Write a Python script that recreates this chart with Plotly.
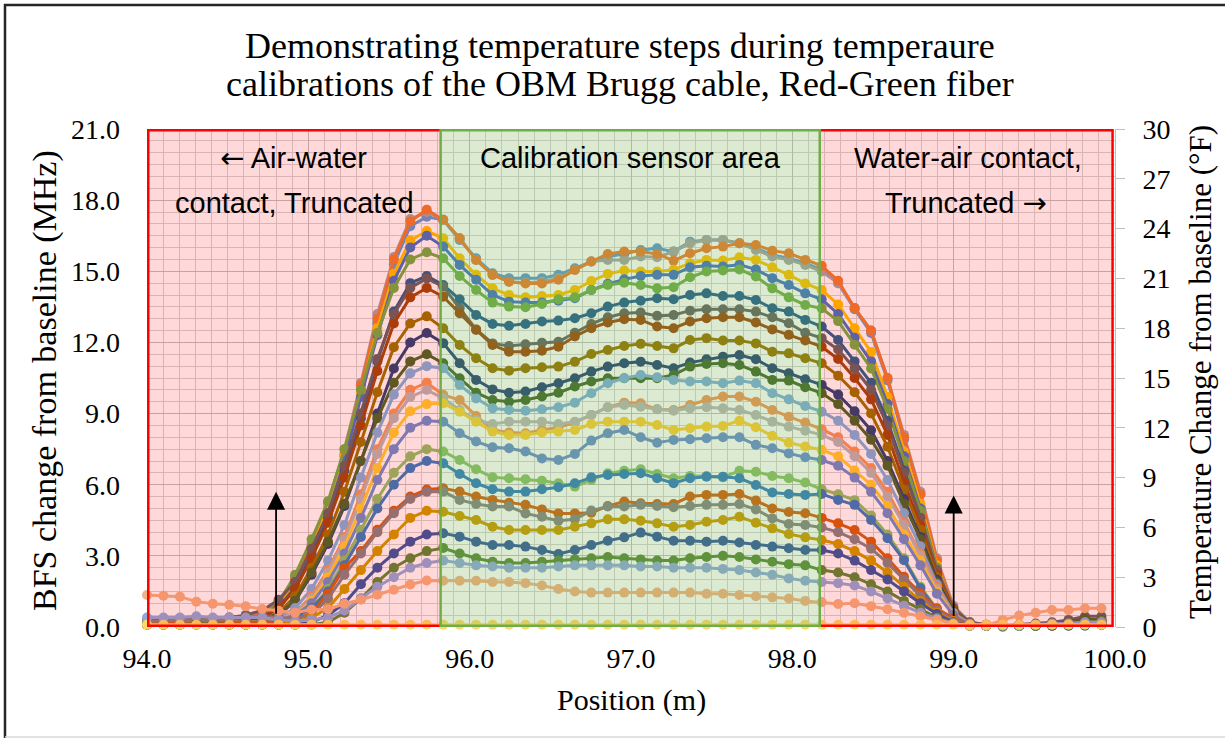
import plotly.graph_objects as go

# Sample positions along the fiber (m)
position_m = [
    94.000, 94.102, 94.204, 94.306, 94.408, 94.510, 94.612,
    94.714, 94.816, 94.918, 95.020, 95.122, 95.224, 95.326, 95.428, 95.530, 95.632, 95.734,
    95.836, 95.938, 96.040, 96.142, 96.244, 96.346, 96.448, 96.550, 96.652, 96.754, 96.856, 96.958,
    97.060, 97.162, 97.264, 97.366, 97.468, 97.570, 97.672, 97.774, 97.876, 97.978, 98.080, 98.182,
    98.284, 98.386, 98.488, 98.590, 98.692, 98.794, 98.896, 98.998, 99.100,
    99.202, 99.304, 99.406, 99.508, 99.610, 99.712, 99.814, 99.916,
]

# BFS change from baseline (MHz), one list per temperature step
bfs_01 = [0.2, 0.2, 0.2, 0.25, 0.3, 0.25, 0.3,
          0.5, 0.9, 1.8, 3.2, 4.9, 7.2, 10.0, 12.8, 15.3, 16.9, 17.3,
          17.17, 16.32, 15.55, 14.92, 14.71, 14.71, 14.71, 14.85, 15.13, 15.41, 15.62, 15.73,
          15.90, 15.97, 15.83, 16.25, 16.32, 16.32, 16.18, 15.97, 15.69, 15.55, 15.34, 15.06,
          14.5, 13.4, 12.4, 10.4, 7.9, 5.6, 2.8, 0.8, 0.2,
          0.1, 0.05, 0.05, 0.1, 0.15, 0.2, 0.25, 0.25]
bfs_02 = [0.3, 0.3, 0.3, 0.3, 0.35, 0.4, 0.45,
          0.7, 1.1, 2.1, 3.5, 5.2, 7.5, 10.3, 13.2, 15.6, 17.2, 17.5,
          17.17, 16.39, 15.48, 14.85, 14.56, 14.52, 14.56, 14.71, 15.06, 15.41, 15.48, 15.48,
          15.62, 15.59, 15.83, 16.18, 16.32, 16.32, 16.18, 15.90, 15.62, 15.48, 15.27, 14.99,
          14.5, 13.45, 12.5, 10.5, 8.1, 5.7, 2.9, 0.9, 0.2,
          0.05, 0.05, 0.05, 0.1, 0.15, 0.2, 0.3, 0.3]
bfs_03 = [0.2, 0.2, 0.15, 0.2, 0.2, 0.25, 0.3,
          0.6, 1.0, 2.0, 3.4, 5.0, 7.3, 10.2, 13.0, 15.5, 17.1, 17.6,
          17.17, 16.39, 15.48, 14.85, 14.56, 14.49, 14.49, 14.64, 15.06, 15.41, 15.73, 15.83,
          15.83, 15.73, 15.45, 15.76, 15.97, 16.04, 16.18, 16.11, 15.87, 15.76, 15.48, 15.23,
          14.6, 13.45, 12.5, 10.5, 8.0, 5.6, 2.8, 0.8, 0.15,
          0.05, 0.0, 0.05, 0.05, 0.1, 0.15, 0.2, 0.2]
bfs_04 = [0.15, 0.15, 0.2, 0.2, 0.2, 0.2, 0.25,
          0.5, 0.9, 1.8, 3.3, 5.0, 7.2, 9.9, 12.6, 14.9, 16.3, 16.7,
          16.39, 15.55, 14.85, 14.28, 14.0, 13.9, 13.96, 14.0, 14.21, 14.59, 14.89, 15.03,
          14.99, 14.99, 15.06, 15.34, 15.48, 15.45, 15.59, 15.48, 15.17, 14.85, 14.49, 14.21,
          13.6, 12.6, 11.6, 9.7, 7.4, 5.2, 2.6, 0.7, 0.15,
          0.05, 0.05, 0.05, 0.05, 0.1, 0.1, 0.15, 0.15]
bfs_05 = [0.15, 0.2, 0.2, 0.15, 0.2, 0.2, 0.2,
          0.4, 0.8, 1.7, 3.1, 4.8, 7.0, 9.7, 12.3, 14.6, 16.0, 16.5,
          16.04, 15.27, 14.64, 14.0, 13.72, 13.68, 13.68, 13.76, 13.86, 14.21, 14.47, 14.66,
          14.8, 14.85, 14.85, 15.17, 15.23, 15.2, 15.27, 15.08, 14.71, 14.42, 14.07, 13.82,
          13.2, 12.2, 11.2, 9.4, 7.2, 5.0, 2.5, 0.7, 0.15,
          0.05, 0.05, 0.1, 0.1, 0.15, 0.2, 0.2, 0.25]
bfs_06 = [0.2, 0.2, 0.25, 0.2, 0.2, 0.25, 0.3,
          0.5, 1.0, 2.2, 3.7, 5.3, 7.5, 10.0, 12.4, 14.3, 15.5, 15.8,
          15.55, 14.8, 14.21, 13.68, 13.51, 13.48, 13.62, 13.82, 13.9, 14.21, 14.42, 14.52,
          14.42, 14.28, 14.33, 14.75, 14.99, 15.03, 15.08, 14.78, 14.28, 13.9, 13.58, 13.44,
          12.9, 11.9, 10.9, 9.2, 7.0, 4.9, 2.5, 0.7, 0.15,
          0.05, 0.05, 0.05, 0.1, 0.15, 0.2, 0.3, 0.3]
bfs_07 = [0.2, 0.2, 0.2, 0.2, 0.25, 0.2, 0.25,
          0.4, 0.8, 1.6, 3.0, 4.6, 6.6, 8.8, 11.2, 13.3, 14.5, 14.8,
          14.42, 13.82, 13.16, 12.78, 12.7, 12.78, 12.88, 12.92, 13.02, 13.23, 13.51, 13.68,
          13.76, 13.86, 13.82, 14.0, 14.07, 13.96, 13.96, 13.79, 13.44, 13.3, 12.95, 12.67,
          12.1, 11.2, 10.3, 8.7, 6.6, 4.6, 2.3, 0.7, 0.15,
          0.05, 0.05, 0.05, 0.1, 0.1, 0.15, 0.2, 0.2]
bfs_08 = [0.3, 0.3, 0.35, 0.3, 0.35, 0.4, 0.5,
          0.7, 1.15, 1.9, 3.3, 4.8, 6.8, 9.0, 11.3, 13.2, 14.3, 14.7,
          14.35, 13.44, 12.55, 11.96, 11.85, 11.92, 11.99, 12.03, 12.41, 12.78, 13.06, 13.23,
          13.26, 13.12, 13.16, 13.34, 13.4, 13.4, 13.4, 13.3, 13.06, 12.81, 12.41, 12.18,
          11.7, 10.9, 10.0, 8.5, 6.5, 4.6, 2.4, 0.8, 0.2,
          0.1, 0.05, 0.1, 0.15, 0.2, 0.3, 0.45, 0.45]
bfs_09 = [0.2, 0.2, 0.2, 0.2, 0.2, 0.25, 0.3,
          0.4, 0.8, 1.6, 2.9, 4.4, 6.3, 8.5, 10.8, 12.8, 13.9, 14.3,
          13.93, 13.23, 12.53, 11.89, 11.61, 11.61, 11.65, 11.82, 12.25, 12.6, 12.84, 12.98,
          12.95, 12.67, 12.6, 12.88, 13.02, 13.06, 13.06, 12.84, 12.55, 12.32, 12.08, 11.82,
          11.3, 10.5, 9.6, 8.1, 6.1, 4.3, 2.2, 0.7, 0.15,
          0.05, 0.05, 0.05, 0.1, 0.1, 0.15, 0.2, 0.2]
bfs_10 = [0.15, 0.15, 0.2, 0.15, 0.2, 0.2, 0.2,
          0.3, 0.6, 1.3, 2.5, 3.9, 5.7, 7.8, 9.9, 11.8, 12.8, 13.1,
          12.6, 11.89, 11.33, 10.91, 10.81, 10.91, 10.95, 10.98, 11.19, 11.51, 11.68, 11.85,
          11.94, 11.85, 11.75, 12.1, 12.18, 12.08, 12.08, 11.96, 11.61, 11.54, 11.33, 11.12,
          10.6, 9.9, 9.0, 7.6, 5.8, 4.1, 2.1, 0.7, 0.15,
          0.05, 0.05, 0.05, 0.05, 0.1, 0.1, 0.15, 0.15]
bfs_11 = [0.2, 0.2, 0.2, 0.2, 0.2, 0.2, 0.25,
          0.3, 0.5, 1.1, 2.2, 3.5, 5.1, 7.0, 9.0, 10.9, 12.0, 12.4,
          11.97, 11.12, 10.42, 10.02, 9.88, 9.93, 10.11, 10.28, 10.49, 10.77, 10.98, 11.12,
          11.19, 11.05, 10.91, 11.15, 11.29, 11.40, 11.47, 11.29, 10.91, 10.70, 10.45, 10.21,
          9.8, 9.1, 8.3, 7.0, 5.4, 3.8, 2.0, 0.65, 0.15,
          0.05, 0.05, 0.05, 0.1, 0.1, 0.15, 0.2, 0.2]
bfs_12 = [0.25, 0.25, 0.3, 0.25, 0.3, 0.3, 0.3,
          0.35, 0.55, 1.1, 2.3, 3.6, 5.2, 7.0, 8.8, 10.3, 11.2, 11.5,
          11.12, 10.49, 9.88, 9.57, 9.50, 9.57, 9.72, 9.88, 10.14, 10.35, 10.49, 10.49,
          10.49, 10.49, 10.63, 10.98, 11.09, 11.12, 11.05, 10.77, 10.42, 10.39, 10.11, 9.86,
          9.4, 8.7, 7.9, 6.8, 5.2, 3.7, 1.9, 0.65, 0.15,
          0.05, 0.05, 0.05, 0.1, 0.15, 0.2, 0.35, 0.3]
bfs_13 = [0.2, 0.2, 0.2, 0.2, 0.2, 0.2, 0.2,
          0.2, 0.4, 0.8, 1.6, 2.8, 4.3, 6.3, 8.2, 9.8, 10.7, 11.0,
          10.91, 10.21, 9.64, 9.22, 9.15, 9.12, 9.18, 9.27, 9.46, 9.86, 10.28, 10.49,
          10.63, 10.53, 10.42, 10.35, 10.35, 10.28, 10.39, 10.28, 9.86, 9.60, 9.32, 9.08,
          8.7, 8.1, 7.3, 6.2, 4.8, 3.4, 1.8, 0.6, 0.15,
          0.05, 0.05, 0.05, 0.05, 0.1, 0.1, 0.15, 0.15]
bfs_14 = [0.15, 0.15, 0.15, 0.15, 0.2, 0.2, 0.2,
          0.2, 0.3, 0.6, 1.3, 2.4, 3.8, 5.6, 7.5, 9.0, 10.0, 10.3,
          9.79, 9.57, 8.90, 8.31, 8.20, 8.17, 8.31, 8.42, 8.62, 8.94, 9.27, 9.46,
          9.43, 9.18, 9.15, 9.36, 9.57, 9.72, 9.72, 9.50, 9.15, 8.87, 8.62, 8.34,
          8.0, 7.4, 6.7, 5.7, 4.4, 3.1, 1.7, 0.55, 0.1,
          0.05, 0.05, 0.05, 0.05, 0.1, 0.1, 0.1, 0.15]
bfs_15 = [0.2, 0.2, 0.2, 0.25, 0.25, 0.2, 0.2,
          0.2, 0.3, 0.6, 1.2, 2.3, 3.7, 5.4, 7.3, 8.8, 9.7, 10.0,
          9.64, 9.15, 8.73, 8.56, 8.66, 8.66, 8.66, 8.56, 8.66, 8.94, 9.27, 9.36,
          9.29, 9.18, 9.12, 9.22, 9.27, 9.22, 9.15, 8.94, 8.66, 8.45, 8.28, 8.10,
          7.8, 7.2, 6.5, 5.5, 4.3, 3.0, 1.6, 0.55, 0.1,
          0.05, 0.05, 0.05, 0.1, 0.1, 0.15, 0.15, 0.2]
bfs_16 = [0.1, 0.1, 0.15, 0.15, 0.1, 0.15, 0.15,
          0.2, 0.3, 0.5, 1.1, 2.1, 3.4, 5.0, 6.7, 8.2, 9.1, 9.4,
          9.43, 9.08, 8.66, 8.24, 8.10, 8.10, 8.20, 8.24, 8.31, 8.56, 8.66, 8.66,
          8.66, 8.52, 8.31, 8.38, 8.45, 8.48, 8.70, 8.42, 8.06, 7.77, 7.61, 7.47,
          7.2, 6.6, 6.0, 5.1, 3.9, 2.8, 1.5, 0.5, 0.1,
          0.05, 0.05, 0.05, 0.05, 0.05, 0.1, 0.1, 0.1]
bfs_17 = [0.15, 0.15, 0.15, 0.2, 0.2, 0.15, 0.2,
          0.2, 0.3, 0.5, 1.0, 1.9, 3.1, 4.6, 6.2, 7.5, 8.4, 8.7,
          8.66, 8.17, 7.82, 7.58, 7.54, 7.40, 7.11, 7.04, 7.30, 7.86, 8.17, 8.31,
          8.0, 7.77, 7.89, 7.92, 7.96, 8.0, 8.0, 7.68, 7.54, 7.32, 7.16, 7.04,
          6.8, 6.3, 5.7, 4.8, 3.7, 2.6, 1.4, 0.5, 0.1,
          0.05, 0.05, 0.05, 0.05, 0.1, 0.1, 0.15, 0.15]
bfs_18 = [0.2, 0.2, 0.2, 0.2, 0.2, 0.2, 0.2,
          0.2, 0.2, 0.4, 0.8, 1.6, 2.8, 4.1, 5.4, 6.5, 7.2, 7.5,
          7.40, 7.04, 6.65, 6.31, 6.27, 6.23, 6.17, 6.06, 5.92, 6.20, 6.48, 6.59,
          6.65, 6.45, 6.27, 6.37, 6.37, 6.31, 6.59, 6.55, 6.37, 6.27, 6.09, 5.81,
          5.6, 5.35, 4.7, 3.9, 2.9, 1.7, 0.75, 0.3, 0.1,
          0.05, 0.05, 0.05, 0.05, 0.1, 0.1, 0.1, 0.1]
bfs_19 = [0.15, 0.15, 0.15, 0.15, 0.15, 0.15, 0.15,
          0.2, 0.2, 0.4, 0.8, 1.5, 2.6, 3.8, 5.0, 6.0, 6.7, 7.0,
          6.90, 6.45, 6.06, 5.81, 5.71, 5.71, 5.81, 5.89, 6.06, 6.31, 6.41, 6.45,
          6.48, 6.27, 6.06, 6.27, 6.34, 6.34, 6.27, 5.99, 5.67, 5.61, 5.57, 5.61,
          5.36, 5.15, 4.51, 3.74, 2.82, 1.63, 0.72, 0.3, 0.1,
          0.05, 0.05, 0.05, 0.05, 0.05, 0.1, 0.1, 0.1]
bfs_20 = [0.15, 0.15, 0.15, 0.2, 0.2, 0.2, 0.2,
          0.2, 0.2, 0.3, 0.6, 1.4, 2.5, 3.2, 4.1, 4.9, 5.5, 5.8,
          5.85, 5.71, 5.50, 5.36, 5.24, 5.15, 4.96, 4.79, 4.79, 4.82, 5.10, 5.29,
          5.22, 5.19, 5.19, 5.50, 5.57, 5.57, 5.61, 5.33, 5.0, 4.85, 4.8, 4.6,
          4.37, 4.09, 3.6, 2.9, 2.12, 1.42, 0.79, 0.36, 0.1,
          0.05, 0.05, 0.05, 0.05, 0.05, 0.1, 0.1, 0.1]
bfs_21 = [0.25, 0.25, 0.3, 0.3, 0.3, 0.35, 0.4,
          0.45, 0.4, 0.35, 0.5, 1.2, 2.2, 3.1, 4.0, 4.8, 5.4, 5.7,
          5.71, 5.36, 5.19, 5.08, 5.08, 4.79, 4.65, 4.48, 4.54, 4.91, 5.08, 5.08,
          5.15, 5.10, 5.05, 5.10, 5.15, 5.15, 5.19, 4.96, 4.58, 4.34, 4.3, 4.2,
          4.0, 3.7, 3.3, 2.7, 2.0, 1.3, 0.7, 0.3, 0.1,
          0.05, 0.05, 0.05, 0.1, 0.1, 0.15, 0.2, 0.2]
bfs_22 = [0.1, 0.1, 0.1, 0.1, 0.1, 0.1, 0.1,
          0.1, 0.1, 0.2, 0.4, 0.8, 1.6, 2.4, 3.2, 3.9, 4.6, 4.9,
          4.86, 4.68, 4.51, 4.23, 4.09, 4.09, 4.09, 4.09, 4.23, 4.37, 4.54, 4.54,
          4.48, 4.37, 4.23, 4.30, 4.44, 4.51, 4.65, 4.40, 4.16, 3.92, 3.78, 3.67,
          3.5, 3.2, 2.8, 2.3, 1.7, 1.1, 0.6, 0.25, 0.05,
          0.05, 0.05, 0.05, 0.05, 0.05, 0.05, 0.1, 0.1]
bfs_23 = [0.1, 0.1, 0.1, 0.1, 0.1, 0.1, 0.1,
          0.1, 0.1, 0.1, 0.2, 0.5, 1.0, 1.8, 2.5, 3.1, 3.6, 3.9,
          3.95, 3.81, 3.60, 3.46, 3.46, 3.39, 3.25, 3.08, 3.25, 3.46, 3.64, 3.78,
          3.98, 3.81, 3.64, 3.64, 3.60, 3.64, 3.56, 3.46, 3.39, 3.32, 3.25, 3.25,
          3.1, 2.8, 2.4, 2.0, 1.5, 1.0, 0.55, 0.2, 0.05,
          0.05, 0.05, 0.05, 0.05, 0.05, 0.05, 0.05, 0.1]
bfs_24 = [0.1, 0.1, 0.1, 0.15, 0.15, 0.1, 0.1,
          0.1, 0.1, 0.1, 0.1, 0.2, 0.6, 1.2, 1.9, 2.5, 2.9, 3.2,
          3.33, 3.1, 2.9, 2.75, 2.7, 2.7, 2.75, 2.8, 2.85, 2.9, 2.95, 2.9,
          2.85, 2.8, 2.8, 2.9, 2.95, 3.0, 2.95, 2.85, 2.75, 2.65, 2.6, 2.4,
          2.3, 2.1, 1.8, 1.5, 1.1, 0.75, 0.4, 0.15, 0.05,
          0.05, 0.05, 0.05, 0.05, 0.1, 0.15, 0.2, 0.25]
bfs_25 = [0.4, 0.4, 0.4, 0.45, 0.4, 0.4, 0.4,
          0.4, 0.3, 0.25, 0.3, 0.4, 0.7, 1.2, 1.7, 2.1, 2.5, 2.7,
          2.8, 2.7, 2.6, 2.55, 2.5, 2.5, 2.5, 2.55, 2.6, 2.6, 2.6, 2.6,
          2.55, 2.55, 2.5, 2.5, 2.5, 2.45, 2.4, 2.3, 2.2, 2.05, 1.95, 1.9,
          1.85, 1.75, 1.5, 1.2, 0.9, 0.6, 0.35, 0.15, 0.05,
          0.05, 0.05, 0.05, 0.1, 0.15, 0.15, 0.2, 0.2]
bfs_26 = [1.35, 1.32, 1.28, 1.07, 0.98, 0.94, 0.87,
          0.76, 0.68, 0.6, 0.74, 0.75, 0.98, 1.15, 1.36, 1.57, 1.79, 1.96,
          1.95, 1.95, 1.95, 1.9, 1.9, 1.85, 1.75, 1.6, 1.5, 1.45, 1.45, 1.45,
          1.45, 1.45, 1.45, 1.45, 1.4, 1.4, 1.35, 1.3, 1.25, 1.2, 1.1, 1.05,
          0.97, 1.0, 0.88, 0.75, 0.6, 0.45, 0.3, 0.15, 0.05,
          0.05, 0.3, 0.48, 0.6, 0.72, 0.72, 0.79, 0.79]
bfs_27 = [0.1, 0.1, 0.1, 0.1, 0.1, 0.1, 0.1,
          0.1, 0.1, 0.1, 0.1, 0.1, 0.1, 0.1, 0.1, 0.1, 0.1, 0.1,
          0.1, 0.1, 0.1, 0.1, 0.1, 0.1, 0.1, 0.1, 0.1, 0.1, 0.1, 0.1,
          0.1, 0.1, 0.1, 0.1, 0.1, 0.1, 0.1, 0.1, 0.1, 0.1, 0.1, 0.1,
          0.1, 0.1, 0.1, 0.1, 0.1, 0.1, 0.1, 0.1, 0.1,
          0.1, 0.1, 0.1, 0.1, 0.1, 0.1, 0.1, 0.1]

step_series = [bfs_01, bfs_02, bfs_03, bfs_04, bfs_05, bfs_06, bfs_07, bfs_08, bfs_09,
               bfs_10, bfs_11, bfs_12, bfs_13, bfs_14, bfs_15, bfs_16, bfs_17, bfs_18,
               bfs_19, bfs_20, bfs_21, bfs_22, bfs_23, bfs_24, bfs_25, bfs_26, bfs_27]

step_colors = ["#5B9BD5", "#A5A5A5", "#ED7D31", "#FFC000", "#4472C4", "#70AD47",
               "#255E91", "#636363", "#9E480E", "#997300", "#264478", "#43682B",
               "#7CAFDD", "#F1975A", "#B7B7B7", "#FFCD33", "#698ED0", "#8CC168",
               "#327DC2", "#D26012", "#848484", "#CC9A00", "#335AA1", "#5A8A39",
               "#8FAADC", "#F4B183", "#FFD966"]

# Axis scales
bfs_range = [0, 21]
temp_range_f = [0, 30]
position_range = [94, 100]

# Zone edges along the fiber (m)
zone_edges = [94.0, 95.82, 98.17, 99.985]

SERIF = "Liberation Serif"
SANS = "Liberation Sans"
W, H = 1225, 738
ML, MR, MT, MB = 147, 110, 129, 111
PW, PH = W - ML - MR, H - MT - MB


def pxx(px):
    """figure pixel column -> plot-area paper fraction"""
    return (px - ML) / PW


def pxy(py):
    """figure pixel row (from top) -> plot-area paper fraction"""
    return (H - MB - py) / PH


fig = go.Figure()
for values, color in zip(step_series, step_colors):
    fig.add_trace(go.Scatter(
        x=position_m, y=values, mode="lines+markers",
        line=dict(color=color, width=3),
        marker=dict(color=color, size=10),
        cliponaxis=False, showlegend=False, hoverinfo="skip"))

# carrier for the secondary (°F) axis
fig.add_trace(go.Scatter(x=[position_range[0]], y=[temp_range_f[0]], yaxis="y2",
                         mode="markers", marker=dict(opacity=0),
                         showlegend=False, hoverinfo="skip"))

red_fill = "rgba(255,0,0,0.15)"
green_fill = "rgba(112,173,71,0.25)"
red_line = "#FF0000"
green_line = "#70AD47"

shapes = []
# translucent zone overlays (above the traces)
for (x0, x1), fill in zip([(zone_edges[0], zone_edges[1]),
                           (zone_edges[1], zone_edges[2]),
                           (zone_edges[2], zone_edges[3])],
                          [red_fill, green_fill, red_fill]):
    shapes.append(dict(type="rect", xref="x", yref="y", x0=x0, x1=x1,
                       y0=bfs_range[0], y1=bfs_range[1], fillcolor=fill,
                       line=dict(width=0), layer="above"))


def seg(x0, y0, x1, y1, color, width):
    return dict(type="line", xref="x", yref="y", x0=x0, y0=y0, x1=x1, y1=y1,
                line=dict(color=color, width=width), layer="above")


lo, hi = bfs_range
# red zone borders
shapes += [
    seg(zone_edges[0], lo, zone_edges[0], hi, red_line, 5),
    seg(zone_edges[0], hi, zone_edges[1], hi, red_line, 5),
    seg(zone_edges[0], lo, zone_edges[1], lo, red_line, 5),
    seg(zone_edges[2], hi, zone_edges[3], hi, red_line, 5),
    seg(zone_edges[2], lo, zone_edges[3], lo, red_line, 5),
    seg(zone_edges[3], lo, zone_edges[3], hi, red_line, 2.5),
]
# green zone borders
shapes += [
    seg(zone_edges[1], lo, zone_edges[1], hi, green_line, 2.5),
    seg(zone_edges[2], lo, zone_edges[2], hi, green_line, 2.5),
    seg(zone_edges[1], hi, zone_edges[2], hi, green_line, 5),
    seg(zone_edges[1], lo, zone_edges[2], lo, green_line, 5),
]
# chart frame
shapes += [
    dict(type="line", xref="paper", yref="paper", x0=pxx(5), x1=pxx(5),
         y0=pxy(H + 5), y1=pxy(4), line=dict(color="#262626", width=2.5)),
    dict(type="line", xref="paper", yref="paper", x0=pxx(4), x1=pxx(W + 10),
         y0=pxy(5), y1=pxy(5), line=dict(color="#262626", width=2.5)),
    dict(type="line", xref="paper", yref="paper", x0=pxx(5), x1=pxx(W + 10),
         y0=pxy(H - 1), y1=pxy(H - 1), line=dict(color="#D9D9D9", width=1.5)),
]


def px_note(text, x, y, size, family, angle=0):
    return dict(text=text, xref="paper", yref="paper", x=pxx(x), y=pxy(y),
                xanchor="center", yanchor="middle", showarrow=False, textangle=angle,
                font=dict(family=family, size=size, color="black"))


ARW = "<span style='font-family:DejaVu Sans'>%s</span>"

annotations = [
    px_note("Demonstrating temperature steps during temperaure", 620, 46, 36, SERIF),
    px_note("calibrations of the OBM Brugg cable, Red-Green fiber", 620, 84, 36, SERIF),
    px_note(ARW % "\u2190" + " Air-water", 293, 158, 29, SANS),
    px_note("contact, Truncated", 294, 203, 29, SANS),
    px_note("Calibration sensor area", 630, 158, 29, SANS),
    px_note("Water-air contact,", 968, 158, 29, SANS),
    px_note("Truncated " + ARW % "\u2192", 966, 203, 29, SANS),
    px_note("Position (m)", 631, 700, 30, SERIF),
    px_note("BFS change from baseline (MHz)", 45, 381, 34, SERIF, -90),
    px_note("Temperature Change from baseline (\u00b0F)", 1200, 372, 31, SERIF, -90),
]

# vertical arrows marking the water contact points
arrow_x = [94.8, 99.0]
arrow_tail = [0.5, 0.4]
arrow_head = [5.7, 5.55]
for ax_, y0_, y1_ in zip(arrow_x, arrow_tail, arrow_head):
    annotations.append(dict(x=ax_, y=y1_, ax=ax_, ay=y0_, xref="x", yref="y",
                            axref="x", ayref="y", text="", showarrow=True,
                            arrowhead=2, arrowsize=2.0, arrowwidth=1.8,
                            arrowcolor="black"))

tick_font = dict(family=SERIF, size=28, color="black")

fig.update_layout(
    width=W, height=H, autosize=False,
    margin=dict(l=ML, r=MR, t=MT, b=MB),
    paper_bgcolor="white", plot_bgcolor="white",
    showlegend=False,
    shapes=shapes, annotations=annotations,
    xaxis=dict(range=position_range, tick0=94, dtick=1, tickformat=".1f",
               showgrid=True, gridcolor="#BFBFBF", gridwidth=1,
               minor=dict(dtick=0.1, tick0=94, showgrid=True, gridcolor="#D4D4D4", gridwidth=1),
               zeroline=False, showline=False, ticks="", tickfont=tick_font,
               ticklabelstandoff=12, fixedrange=True),
    yaxis=dict(range=bfs_range, tick0=0, dtick=3, tickformat=".1f",
               showgrid=True, gridcolor="#BFBFBF", gridwidth=1,
               minor=dict(dtick=0.5, tick0=0, showgrid=True, gridcolor="#D4D4D4", gridwidth=1),
               zeroline=False, showline=False, ticks="", tickfont=tick_font,
               ticklabelstandoff=26),
    yaxis2=dict(range=temp_range_f, tick0=0, dtick=3, overlaying="y", side="right",
                showgrid=False, zeroline=False, showline=True, linecolor="#BFBFBF",
                linewidth=1, ticks="outside", ticklen=9, tickcolor="#BFBFBF",
                tickfont=tick_font, ticklabelstandoff=12),
)

fig.write_html("out.html")
